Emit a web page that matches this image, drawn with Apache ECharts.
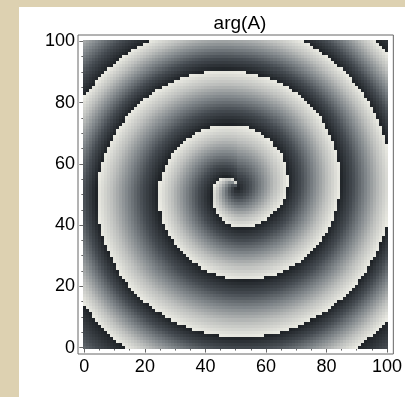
<!DOCTYPE html>
<html>
<head>
<meta charset="utf-8">
<script src="https://cdn.jsdelivr.net/npm/echarts@6/dist/echarts.min.js"></script>
<style>
  html, body { margin: 0; padding: 0; width: 405px; height: 397px; background: #ddd1b1; overflow: hidden; }
  #chart { position: absolute; left: 19px; top: 7px; width: 386px; height: 390px; background: #ffffff; }
</style>
</head>
<body>
<div id="chart"></div>
<script>
// Sample grid of the field (0..100 in both directions)
const gridXs = Array.from({ length: 101 }, (_, i) => i);
const gridYs = Array.from({ length: 101 }, (_, i) => i);

// Spiral core and the traced phase-jump line (the arm where arg(A) wraps from +pi to -pi):
// radius of the arm every 45 degrees, starting at the core tip (90 degrees) and winding outwards
const spiralCore = [50.5, 52.0];
const armStartDeg = 90;
const armStepDeg = 45;
const armRadii = [
  1.0, 5.5, 8.0, 10.3, 12.6, 14.0, 16.4, 18.6,
  20.8, 23.0, 26.0, 27.6, 29.6, 31.8, 33.9, 36.1,
  38.3, 42.0, 46.4, 48.0, 48.5, 50.0, 51.4, 52.0,
  53.5, 57.5, 61.5, 63.7, 64.5, 65.6, 65.8, 66.5,
  72.0, 76.0, 80.0, 88.0, 90.0, 91.0, 92.0, 93.0,
  95.0, 97.0, 99.0
];

// Axis ticks
const majorTicks = [0, 20, 40, 60, 80, 100];
const minorTicks = [5, 10, 15, 25, 30, 35, 45, 50, 55, 65, 70, 75, 85, 90, 95];
const axisMin = -2.1;
const axisMax = 102.1;

const TWO_PI = Math.PI * 2;
const armStart = armStartDeg * Math.PI / 180;
const armStep = armStepDeg * Math.PI / 180;
const armEnd = armStart + armStep * (armRadii.length - 1);

// arm radius at an unwrapped angle (linear between traced samples)
function armRadiusAt(a) {
  const t = (a - armStart) / armStep;
  const i = Math.max(0, Math.min(armRadii.length - 2, Math.floor(t)));
  const f = t - i;
  return armRadii[i] + (armRadii[i + 1] - armRadii[i]) * f;
}

// arg(A) at a point: position between the two arm crossings that enclose it on its ray
function phaseAt(x, y) {
  const dx = x - spiralCore[0], dy = y - spiralCore[1];
  const r = Math.hypot(dx, dy);
  let a = Math.atan2(dy, dx);
  while (a < armStart) a += TWO_PI;
  let inner = 0;
  let outer = armRadiusAt(a);
  while (r >= outer && a + TWO_PI <= armEnd) {
    a += TWO_PI;
    inner = outer;
    outer = armRadiusAt(a);
  }
  let frac = (r - inner) / (outer - inner);
  frac = Math.max(0, Math.min(0.999, frac));
  return -Math.PI + TWO_PI * frac;
}

const cells = [];
for (const y of gridYs) {
  for (const x of gridXs) {
    cells.push([x, y, phaseAt(x, y)]);
  }
}

const font = 'Liberation Sans, Arial, Helvetica, sans-serif';
const frameColor = '#666666';

function xAxisDef(position, ticks, len, labels) {
  return {
    type: 'value', min: axisMin, max: axisMax, position: position,
    axisLine: { show: false }, splitLine: { show: false },
    axisTick: { show: true, inside: true, length: len, customValues: ticks, lineStyle: { color: frameColor, width: 1 } },
    axisLabel: labels ? { show: true, customValues: ticks, fontSize: 18, color: '#000', margin: 4, fontFamily: font } : { show: false }
  };
}
function yAxisDef(position, ticks, len, labels) {
  return {
    type: 'value', min: axisMin, max: axisMax, position: position,
    axisLine: { show: false }, splitLine: { show: false },
    axisTick: { show: true, inside: true, length: len, customValues: ticks, lineStyle: { color: frameColor, width: 1 } },
    axisLabel: labels ? { show: true, customValues: ticks, fontSize: 18, color: '#000', margin: 3, fontFamily: font } : { show: false }
  };
}

const chart = echarts.init(document.getElementById('chart'), null, { renderer: 'canvas' });
chart.setOption({
  animation: false,
  title: {
    text: 'arg(A)', left: 216, top: 2, textAlign: 'center',
    textStyle: { fontSize: 19, fontWeight: 'normal', color: '#000', fontFamily: font }
  },
  grid: {
    left: 59, right: 7, top: 28, bottom: 43,
    show: true, borderColor: frameColor, borderWidth: 1, backgroundColor: '#ffffff'
  },
  xAxis: [
    xAxisDef('bottom', majorTicks, 5, true),
    xAxisDef('bottom', minorTicks, 3, false),
    xAxisDef('top', majorTicks, 5, false),
    xAxisDef('top', minorTicks, 3, false)
  ],
  yAxis: [
    yAxisDef('left', majorTicks, 5, true),
    yAxisDef('left', minorTicks, 3, false),
    yAxisDef('right', majorTicks, 5, false),
    yAxisDef('right', minorTicks, 3, false)
  ],
  visualMap: {
    show: false, type: 'continuous', dimension: 2, seriesIndex: 0,
    min: -Math.PI, max: Math.PI,
    inRange: { color: ['#1e2226', '#454b51', '#80868a', '#bdbfbd', '#ebebe3'] }
  },
  series: [{
    type: 'custom',
    coordinateSystem: 'cartesian2d',
    xAxisIndex: 0, yAxisIndex: 0,
    progressive: 0,
    data: cells,
    encode: { x: 0, y: 1 },
    renderItem: function (params, api) {
      const x = api.value(0), y = api.value(1);
      const p0 = api.coord([x - 0.5, y + 0.5]);
      const p1 = api.coord([x + 0.5, y - 0.5]);
      // snap cell edges to whole pixels so neighbouring cells meet without seams
      const x0 = Math.round(p0[0]), y0 = Math.round(p0[1]);
      const x1 = Math.round(p1[0]), y1 = Math.round(p1[1]);
      return {
        type: 'rect',
        shape: { x: x0, y: y0, width: x1 - x0, height: y1 - y0 },
        style: { fill: api.visual('color'), stroke: null }
      };
    }
  }]
});
</script>
</body>
</html>
